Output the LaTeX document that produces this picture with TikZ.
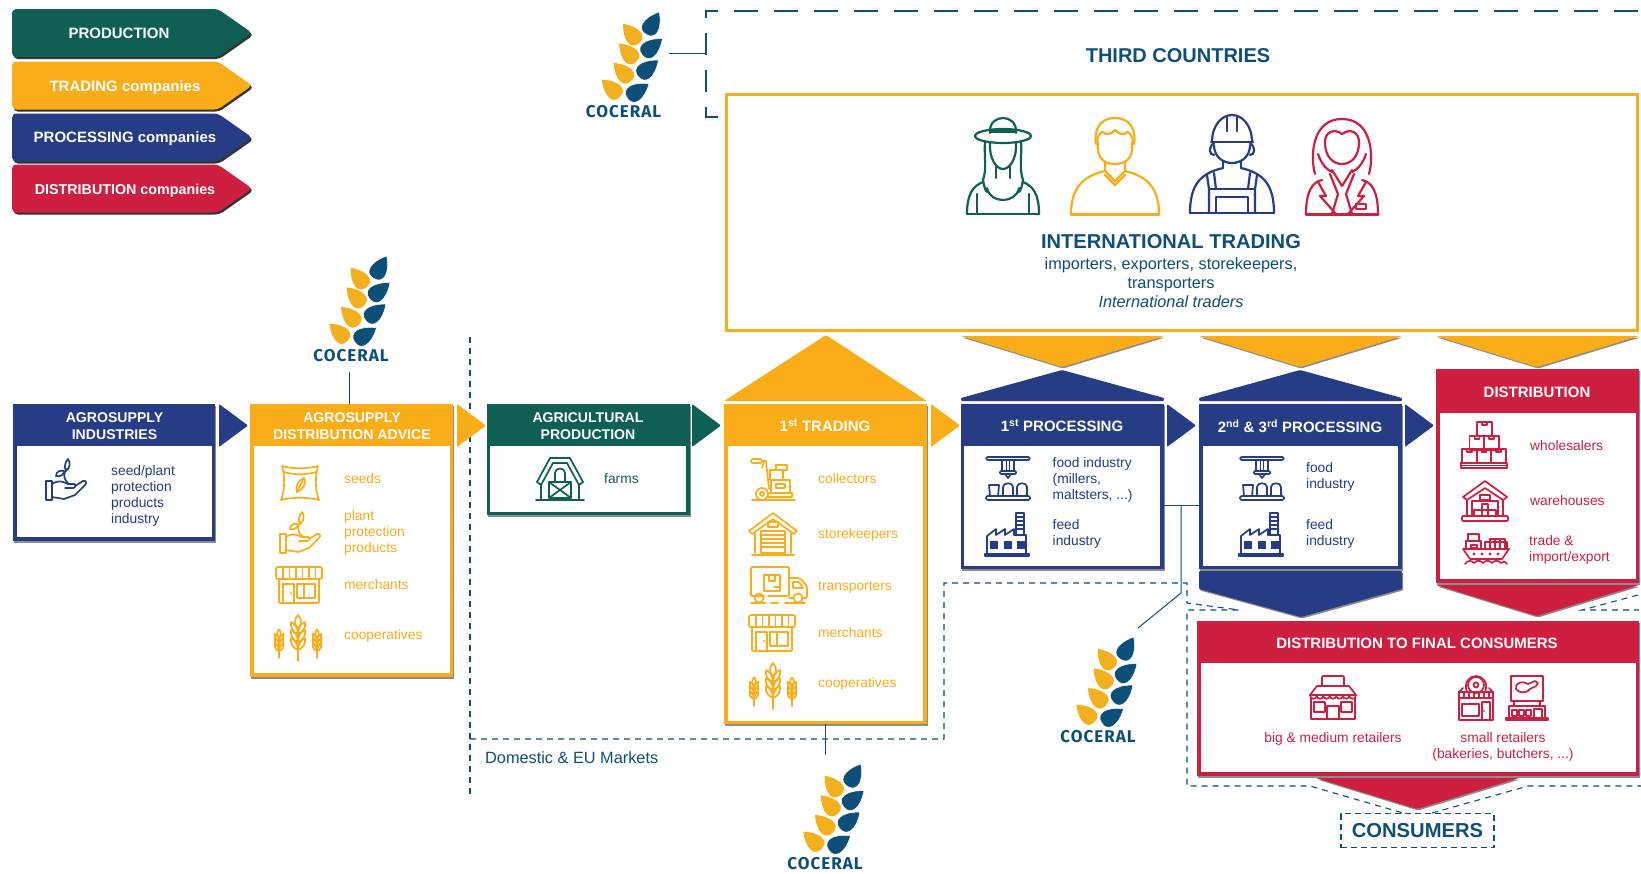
\documentclass[tikz,border=0pt]{standalone}
\usepackage{fontspec}
\setmainfont{Liberation Sans}
\newfontfamily\logofont[LetterSpace=6]{Fira Sans}
\usetikzlibrary{arrows.meta}
\usetikzlibrary{calc}
\usetikzlibrary{shadows}
\usetikzlibrary{shapes.symbols}
\definecolor{prodgreen}{HTML}{0F5F55}
\definecolor{tradeyellow}{HTML}{FBAC19}
\definecolor{procblue}{HTML}{263D85}
\definecolor{distred}{HTML}{CF1F41}
\definecolor{cocblue}{HTML}{0D4F78}
\definecolor{cocyellow}{HTML}{F2AF1E}
\tikzset{
  softshadow/.style={drop shadow={shadow xshift=1pt, shadow yshift=-1.5pt, fill=black, opacity=.45}},
  tag/.style={shape=signal, signal to=east, signal pointer angle=70, rounded corners=4pt, minimum width=240pt, minimum height=48pt,
    inner sep=0pt, drop shadow={shadow xshift=1.5pt, shadow yshift=-2pt, fill=black, opacity=.8}},
  tagtext/.style={inner sep=0pt, text=white, font=\fontsize{15}{17}\bfseries\selectfont},
  card/.style={rectangle, inner sep=0pt, outer sep=0pt, softshadow},
  pane/.style={rectangle, inner sep=0pt, outer sep=0pt, fill=white},
  head/.style={align=center, inner sep=0pt, text=white, font=\fontsize{14.1}{16.5}\bfseries\selectfont},
  bighead/.style={align=center, inner sep=0pt, text=white, font=\fontsize{15}{18}\bfseries\selectfont},
  item/.style={anchor=west, align=left, inner sep=0pt, font=\fontsize{13.8}{16}\selectfont},
  title/.style={align=center, inner sep=0pt, text=cocblue, font=\fontsize{20}{22}\bfseries\selectfont},
  logotext/.style={inner sep=1pt, text=cocblue, font=\fontsize{17}{19}\logofont\bfseries\selectfont},
  conn/.style={draw=cocblue, line width=1pt},
  market/.style={draw=cocblue, line width=1.1pt, dash pattern=on 6pt off 5pt},
  thirdline/.style={draw=cocblue, line width=2.6pt},
  icon/.style={line width=1.7pt, line join=round, line cap=round},
  figure/.style={line width=2.2pt, line join=round, line cap=round},
  coceral/.pic={
    \foreach \x/\y/\a/\c in {22.7/-77.5/-30/cocblue,15.7/-68.5/39/cocyellow,18.7/-57/-51/cocblue,13/-50/43/cocyellow,14.7/-35.5/-51/cocblue,8/-31/45/cocyellow,3.7/-14/-57/cocblue,-3/-15/47/cocyellow}{
      \filldraw[fill=\c,draw=white,line width=.5pt,shift={(\x,\y)},rotate=\a] (0,0) .. controls (-11,0) and (-12,-12) .. (0,-26) .. controls (12,-12) and (11,0) .. (0,0);
    }
  },
  hand/.pic={
    \draw (-20,1) rectangle (-14,20);
    \draw (-14,4) .. controls (-8,0) and (-4,1) .. (2,4) -- (8,4) .. controls (10,4) and (10,8) .. (7,8) -- (-1,8);
    \draw (9,6) -- (17,1) .. controls (20,0) and (21,3) .. (19,5) -- (9,15) -- (-2,19) -- (-14,17);
    \draw (2,3) .. controls (-4,-3) and (-2,-8) .. (1,-11);
    \draw (2,-21) .. controls (5,-17) and (4,-12) .. (0,-9) .. controls (-2,-13) and (-1,-18) .. (2,-21);
    \draw (-10,-4) .. controls (-10,-9) and (-5,-10) .. (-2,-9) .. controls (-2,-5) and (-6,-3) .. (-10,-4);
  },
  bag/.pic={
    \draw (-18,-17) .. controls (-8,-14) and (8,-14) .. (18,-17) .. controls (15,-8) and (15,8) .. (19,17) .. controls (8,14) and (-8,14) .. (-19,17) .. controls (-15,8) and (-15,-8) .. (-18,-17);
    \draw (-16,-11) .. controls (-6,-8) and (6,-8) .. (16,-11);
    \draw (4,-5) .. controls (7,0) and (3,7) .. (-3,9) .. controls (-5,4) and (-2,-3) .. (4,-5);
    \draw (-3,9) -- (4,-5);
  },
  shop/.pic={
    \draw[rounded corners=2] (-23,-18) rectangle (23,-6);
    \foreach \x in {-16,-9.5,-3,3.5,10,16.5} \draw (\x,-18) -- (\x,-6);
    \draw[rounded corners=1] (-20,-6) -- (-20,18) -- (20,18) -- (20,-6);
    \draw (-16,-1) rectangle (-5,18);
    \draw (-2,-1) rectangle (16,13);
    \draw (5,-1) -- (5,13);
    \fill (-8,8) circle (1.2);
  },
  wheat/.pic={
    \foreach \x/\yy/\s in {0/0/1,-19/6/.62,19/6/.62}{
      \begin{scope}[shift={(\x,\yy)},scale=\s]
        \draw (0,-6) -- (0,24);
        \draw (0,-22) .. controls (-4,-18) and (-4,-12) .. (0,-9) .. controls (4,-12) and (4,-18) .. (0,-22);
        \foreach \k in {-12,-4,4}{
          \draw (0,\k+9) .. controls (-5,\k+7) and (-8,\k+3) .. (-7,\k-3) .. controls (-3,\k-1) and (0,\k+3) .. (0,\k+9);
          \draw (0,\k+9) .. controls (5,\k+7) and (8,\k+3) .. (7,\k-3) .. controls (3,\k-1) and (0,\k+3) .. (0,\k+9);
        }
      \end{scope}
    }
  },
  barn/.pic={
    \draw (-23,3) -- (-10,-21) -- (10,-21) -- (23,3);
    \draw (-19,6) -- (-19,21);
    \draw (19,6) -- (19,21);
    \draw (-23,3) -- (-19,6) -- (-7,-16) -- (7,-16) -- (19,6) -- (23,3);
    \draw (-24,21) -- (24,21);
    \draw (-11,3) rectangle (11,19);
    \draw (-11,3) -- (11,19) (-11,19) -- (11,3);
    \draw (-5,3) -- (-5,-6) .. controls (-5,-12) and (5,-12) .. (5,-6) -- (5,3);
  },
  trolley/.pic={
    \draw[rounded corners=2] (-22,-21) rectangle (-11,-17);
    \draw (-11,-19) -- (-7,-19) -- (-4,9);
    \draw (-9,-19) -- (-11,-12);
    \draw (-11,14) circle (6);
    \draw (-11,14) circle (2);
    \draw (-5,17) -- (19,17) -- (19,13) -- (-4,13);
    \draw (-21,20) -- (22,20);
    \draw (-3,-10) rectangle (10,0);
    \draw (-2,0) rectangle (17,13);
    \draw (3,-15) rectangle (14,-10);
    \draw (3,4) rectangle (12,8);
  },
  storehouse/.pic={
    \draw (-24,-3) -- (0,-21) -- (24,-3);
    \draw (-24,-3) -- (-21,0) -- (0,-15) -- (21,0) -- (24,-3);
    \draw (-18,-1) -- (-18,19);
    \draw (18,-1) -- (18,19);
    \draw (-21,21) -- (21,21);
    \draw (-12,-3) rectangle (12,19);
    \foreach \y in {1,5,9,13} \draw (-12,\y) -- (12,\y);
    \draw (-5,-12) rectangle (5,-7);
  },
  truck/.pic={
    \draw[rounded corners=1] (-15,11) -- (-28,11) -- (-28,-18) -- (10,-18) -- (10,11) -- (-11,11);
    \draw (-15,-10) rectangle (1,6);
    \draw (-10,-10) rectangle (-4,-4);
    \draw (-5,2) -- (0,2);
    \draw[rounded corners=2] (10,-7) -- (21,-7) -- (28,1) -- (28,13) -- (24,13);
    \draw (10,13) -- (14,13);
    \draw (14,-3) -- (20,-3) -- (24,3) -- (14,3) -- cycle;
    \draw (-20,13) circle (4.5);
    \draw (19,13) circle (4.5);
    \draw (-28,18) -- (-14,18) (-8,18) -- (-1,18) (6,18) -- (26,18);
  },
  machine/.pic={
    \draw[rounded corners=1.5] (-22,-22) rectangle (22,-19);
    \draw (-6,-19) -- (-6,-8) (6,-19) -- (6,-8);
    \draw (-1.5,-19) -- (-1.5,-8) (1.5,-19) -- (1.5,-8);
    \draw[rounded corners=1] (-8,-8) rectangle (8,-5);
    \draw (-3,-5) -- (0,-1) -- (3,-5);
    \draw (-19,6) -- (-9,6) -- (-10,17) -- (-18,17) -- cycle;
    \draw (-5,17) -- (-5,8) .. controls (-5,3) and (5,3) .. (5,8) -- (5,17);
    \draw (9,17) -- (9,8) .. controls (9,3) and (19,3) .. (19,8) -- (19,17);
    \draw[rounded corners=1.5] (-22,17) rectangle (22,21);
  },
  factory/.pic={
    \draw (-20,20) -- (-20,2) -- (-11,-5) -- (-11,1) -- (-2,-5) -- (-2,1) -- (7,-5) -- (7,1);
    \draw (7,1) -- (19,1) -- (19,20);
    \draw (9,1) rectangle (17,-21);
    \foreach \y in {-17,-13,-9,-5} \draw (9,\y) -- (17,\y);
    \draw (-22,20) rectangle (22,22);
    \foreach \x in {-13,1,14} \fill (\x-4,7) rectangle (\x+4,15);
  },
  boxes/.pic={
    \foreach \x/\y in {-22/4,-7.5/4,7/4,-14.5/-9,0/-9,-7/-23}{
      \draw (\x,\y) rectangle (\x+15,\y+14);
      \draw (\x+5,\y) -- (\x+5,\y+3) -- (\x+10,\y+3) -- (\x+10,\y);
    }
    \draw (-23,18) rectangle (23,23);
    \draw (-23,20.5) -- (23,20.5);
  },
  depot/.pic={
    \draw (-22,-4) -- (0,-20) -- (22,-4);
    \draw (-22,-4) -- (-18,-1) -- (0,-13) -- (18,-1) -- (22,-4);
    \draw (-18,-1) -- (-18,15) (18,-1) -- (18,15);
    \draw[rounded corners=1] (-23,15) rectangle (23,20);
    \draw (-13,15) -- (-13,0) -- (13,0) -- (13,15);
    \draw (-5,-1) rectangle (5,-6);
    \draw (-3,3) rectangle (3,9);
    \draw (-11,9) rectangle (-3,15) (-3,9) rectangle (3,15) (3,9) rectangle (11,15);
  },
  ship/.pic={
    \draw (-23,0) -- (23,0) -- (16,10) -- (-16,10) -- cycle;
    \foreach \x in {-12,-4,4,12} \fill (\x,5) circle (1.6);
    \draw (-20,0) rectangle (-5,-8);
    \draw (-18,-8) rectangle (-7,-15);
    \draw (-15,-4) rectangle (-9,-1);
    \draw (-1,0) rectangle (21,-7);
    \foreach \x in {4,9,14} \draw (\x,0) -- (\x,-10) -- (\x+5,-10) -- (\x+5,0);
    \draw (-21,15) .. controls (-18,11) and (-15,11) .. (-12,14) .. controls (-9,11) and (-6,11) .. (-3,14) .. controls (0,11) and (3,11) .. (6,14) .. controls (9,11) and (12,11) .. (15,14) .. controls (17,12) and (19,12) .. (21,15);
  },
  store/.pic={
    \draw[rounded corners=1] (-11,-12) -- (-11,-22) -- (11,-22) -- (11,-12);
    \draw (-16,-12) -- (16,-12) -- (23,-3) (-16,-12) -- (-23,-3);
    \foreach \x in {-23,-16.5,-10,-3.5,3,9.5,16}{
      \draw (\x,-3) .. controls (\x,2) and (\x+7,2) .. (\x+7,-3);
    }
    \draw (-23,-3) -- (23,-3);
    \draw (-22,0) -- (-22,21) -- (22,21) -- (22,0);
    \draw (-6,8) rectangle (6,21);
    \draw (-19,4) rectangle (-8,14);
    \draw (8,4) rectangle (19,14);
  },
  bakery/.pic={
    \draw (-9,-6) .. controls (-13,-16) and (-6,-22) .. (0,-22) .. controls (6,-22) and (13,-16) .. (9,-6);
    \draw (0,-13) circle (8);
    \draw (0,-13) circle (2.5);
    \draw (-17,-6) -- (-13,-10) (17,-6) -- (13,-10);
    \draw (-17,-6) rectangle (17,0);
    \foreach \x in {-12,-7,-2,3,8,13} \draw (\x,-6) -- (\x,0);
    \draw (-17,0) -- (-17,22) -- (17,22) -- (17,0);
    \draw (-14,6) rectangle (3,18);
    \draw (6,4) rectangle (14,22);
    \fill (8,13) circle (1);
  },
  butcher/.pic={
    \draw (-16,-22) rectangle (16,3);
    \draw (-11,-9) .. controls (-13,-15) and (-4,-18) .. (1,-14) -- (8,-17) -- (11,-15) -- (9,-12) -- (3,-9) .. controls (1,-5) and (-8,-4) .. (-11,-9);
    \draw (-13,3) rectangle (13,8);
    \draw (-18,8) -- (-18,20) (18,8) -- (18,20);
    \draw (-18,8) -- (18,8);
    \draw (-21,20) rectangle (21,22);
    \foreach \x in {-15,-8,-1} \draw (\x,12) rectangle (\x+5,18);
    \draw (7,20) -- (7,11) -- (15,11) -- (15,20);
  },
  farmer/.pic={
    \draw (0,-30) ellipse (28 and 7);
    \draw (-13,-33) .. controls (-14,-44) and (-6,-48) .. (0,-48) .. controls (6,-48) and (14,-44) .. (13,-33);
    \draw[line width=3pt] (-12,-35) -- (12,-35);
    \draw (-13,-23) .. controls (-14,-8) and (-7,3) .. (0,3) .. controls (7,3) and (14,-8) .. (13,-23);
    \draw (-18,-25) .. controls (-19,-10) and (-16,3) .. (-20,14) .. controls (-19,20) and (-18,24) .. (-16,26);
    \draw (18,-25) .. controls (19,-10) and (16,3) .. (20,14) .. controls (19,20) and (18,24) .. (16,26);
    \draw (-7,1) -- (-7,12) (7,1) -- (7,12);
    \draw (-16,22) .. controls (-13,38) and (13,38) .. (16,22);
    \draw (-20,16) .. controls (-30,20) and (-36,28) .. (-36,48);
    \draw (20,16) .. controls (30,20) and (36,28) .. (36,48);
    \draw (-36,48) -- (36,48);
    \draw (-26,28) -- (-26,48) (26,28) -- (26,48);
  },
  tradesman/.pic={
    \draw (-19,-22) .. controls (-21,-34) and (-17,-48) .. (0,-48) .. controls (17,-48) and (21,-34) .. (19,-22);
    \draw (-19,-22) .. controls (-17,-30) and (-15,-34) .. (-12,-34) .. controls (-8,-30) and (-4,-32) .. (0,-36) .. controls (4,-32) and (8,-30) .. (12,-34) .. controls (15,-34) and (17,-30) .. (19,-22);
    \draw (-17,-24) .. controls (-19,-6) and (-9,-2) .. (0,-2) .. controls (9,-2) and (19,-6) .. (17,-24);
    \draw (-10,-4) -- (-10,5) -- (0,15) -- (10,5) -- (10,-4);
    \draw (-10,9) -- (0,19) -- (10,9);
    \draw (-10,5) .. controls (-32,10) and (-44,22) .. (-44,48);
    \draw (10,5) .. controls (32,10) and (44,22) .. (44,48);
    \draw[line width=3pt] (-44,48) -- (44,48);
  },
  worker/.pic={
    \draw (-20,-23) .. controls (-20,-40) and (-10,-50) .. (0,-50) .. controls (10,-50) and (20,-40) .. (20,-23);
    \draw (-21,-23) -- (21,-23);
    \draw (-5,-49) -- (-5,-34) (5,-49) -- (5,-34);
    \draw (-18,-22) .. controls (-24,-18) and (-23,-10) .. (-18,-10);
    \draw (18,-22) .. controls (24,-18) and (23,-10) .. (18,-10);
    \draw (-18,-20) .. controls (-18,-8) and (-9,-2) .. (0,-2) .. controls (9,-2) and (18,-8) .. (18,-20);
    \draw (-9,-4) -- (-9,3) (9,-4) -- (9,3);
    \draw (-9,3) .. controls (-30,8) and (-42,18) .. (-42,48);
    \draw (9,3) .. controls (30,8) and (42,18) .. (42,48);
    \draw (-42,48) -- (42,48);
    \draw (-25,10) -- (-23,24) -- (-23,48) (25,10) -- (23,24) -- (23,48);
    \draw (-18,8) -- (-16,24) (18,8) -- (16,24);
    \draw (-23,24) -- (23,24);
    \draw (-16,32) rectangle (16,48);
  },
  banker/.pic={
    \draw (-27,8) .. controls (-32,-10) and (-30,-47) .. (0,-47) .. controls (30,-47) and (32,-10) .. (27,8);
    \draw (-17,-24) .. controls (-17,-8) and (-8,-2) .. (0,-2) .. controls (8,-2) and (17,-8) .. (17,-24) .. controls (17,-34) and (8,-38) .. (0,-32) .. controls (-8,-38) and (-17,-34) .. (-17,-24);
    \draw (-24,-12) .. controls (-20,0) and (-14,4) .. (-10,6);
    \draw (24,-12) .. controls (20,0) and (14,4) .. (10,6);
    \draw (-20,14) .. controls (-30,16) and (-36,26) .. (-36,48);
    \draw (20,14) .. controls (30,16) and (36,26) .. (36,48);
    \draw[line width=3pt] (-36,48) -- (36,48);
    \draw (-10,4) -- (0,20) -- (10,4);
    \draw (-24,16) -- (-16,30) -- (-22,30) -- (-6,48);
    \draw (24,16) -- (16,30) -- (22,30) -- (6,48);
    \draw (-12,8) -- (-4,28) -- (-10,48) (12,8) -- (4,28) -- (10,48);
    \draw (14,38) rectangle (24,43);
  },
}

\begin{document}
\begin{tikzpicture}[x=1pt, y=-1pt]
      \useasboundingbox (0,0) rectangle (1641,873);

      % legend
      \node[tag, fill=prodgreen] (production) at (115,33) {};
      \node[tag, fill=tradeyellow] (tradingco) at (115,85.5) {};
      \node[tag, fill=procblue] (processingco) at (115,137.5) {};
      \node[tag, fill=distred] (distributionco) at (115,188.5) {};
      \node[tagtext] (productiontext) at (119,33) {PRODUCTION};
      \node[tagtext] (tradingtext) at (125,88) {TRADING companies};
      \node[tagtext] (processingtext) at (125,138.5) {PROCESSING companies};
      \node[tagtext, font=\fontsize{14.3}{17}\bfseries\selectfont] (distributiontext) at (125,191) {DISTRIBUTION companies};

      % market frames
      \draw[market] (470,337) -- (470,798);
      \draw[market] (470,739) -- (944,739) -- (944,583) -- (1187,583) -- (1187,603) -- (1239,610) -- (1187,610) -- (1187,786) -- (1310,786) -- (1403,813);
      \draw[market] (1432,813) -- (1528,786) -- (1641,786);
      \draw[market] (1638,595) -- (1582,610) -- (1639,610);
      \draw[thirdline, dash pattern=on 22pt off 15pt] (718,117) -- (706,117) -- (706,11) -- (718,11);
      \draw[thirdline, dash pattern=on 24pt off 16pt] (734,11) -- (1641,11);

      % chevrons between the stages
      \foreach \x/\c in {219/procblue,457/tradeyellow,692/prodgreen,931/tradeyellow,1167/procblue,1405/procblue}
        \fill[\c, rounded corners=1pt] (\x,404) -- (\x+29,425.5) -- (\x,447) -- cycle;

      % flows up and down
      \fill[tradeyellow, rounded corners=1pt] (724,401) -- (826,335) -- (927,401) -- cycle;
      \foreach \x/\c in {961/procblue,1199/procblue}
        \fill[\c, rounded corners=1pt] (\x,401) -- (\x,398) -- (\x+101,370) -- (\x+203,398) -- (\x+203,401) -- cycle;
      \foreach \x in {961,1199,1436}
        \fill[tradeyellow, softshadow, rounded corners=1pt] (\x,336) -- (\x+203,336) -- (\x+101,367) -- cycle;
      \fill[procblue, softshadow, rounded corners=1pt] (1199,571) -- (1402,571) -- (1402,589) -- (1301,617) -- (1199,589) -- cycle;
      \fill[distred, softshadow, rounded corners=1pt] (1436,585) -- (1639,585) -- (1537,616) -- cycle;
      \fill[distred, softshadow, rounded corners=1pt] (1316,778) -- (1519,778) -- (1417,809) -- cycle;

      % stages
      \node[card, fill=procblue, minimum width=202pt, minimum height=137pt] (industries) at (114,472.5) {};
      \node[pane, minimum width=195pt, minimum height=91pt] (industriespane) at (114.5,491.5) {};
      \node[head] (industrieshead) at (114.5,426) {AGROSUPPLY\\INDUSTRIES};
      \pic[icon, color=procblue] at (66,480) {hand};
      \node[item, text=procblue] (seedplant) at (111,496) {seed/plant\\protection\\products\\industry};

      \node[card, fill=tradeyellow, minimum width=203pt, minimum height=273pt] (advice) at (351.5,540.5) {};
      \node[pane, minimum width=196pt, minimum height=227pt] (advicepane) at (352,559.5) {};
      \node[head] (advicehead) at (352,426) {AGROSUPPLY\\DISTRIBUTION ADVICE};
      \pic[icon, color=tradeyellow] at (300,483) {bag};
      \pic[icon, color=tradeyellow] at (300,533) {hand};
      \pic[icon, color=tradeyellow] at (299,585) {shop};
      \pic[icon, color=tradeyellow] at (298,637) {wheat};
      \node[item, text=tradeyellow] (seeds) at (344,479) {seeds};
      \node[item, text=tradeyellow] (plantprot) at (344,533) {plant\\protection\\products};
      \node[item, text=tradeyellow] (merchantsa) at (344,585) {merchants};
      \node[item, text=tradeyellow] (cooperativesa) at (344,635.5) {cooperatives};

      \node[card, fill=prodgreen, minimum width=203pt, minimum height=111pt] (farming) at (588.5,459.5) {};
      \node[pane, minimum width=196pt, minimum height=66pt] (farmingpane) at (588,479) {};
      \node[head] (farminghead) at (588,426) {AGRICULTURAL\\PRODUCTION};
      \pic[icon, color=prodgreen] at (560,479) {barn};
      \node[item, text=prodgreen] (farms) at (604,479) {farms};

      \node[card, fill=tradeyellow, minimum width=203pt, minimum height=320pt] (trading) at (825.5,564) {};
      \node[pane, minimum width=195pt, minimum height=275pt] (tradingpane) at (825.5,583.5) {};
      \node[bighead] (tradinghead) at (825,426) {1\textsuperscript{st} TRADING};
      \pic[icon, color=tradeyellow] at (773,480) {trolley};
      \pic[icon, color=tradeyellow] at (773,534) {storehouse};
      \pic[icon, color=tradeyellow] at (779,585) {truck};
      \pic[icon, color=tradeyellow] at (772,633) {shop};
      \pic[icon, color=tradeyellow] at (773,685) {wheat};
      \node[item, text=tradeyellow] (collectors) at (818,479) {collectors};
      \node[item, text=tradeyellow] (storekeepers) at (818,535) {storekeepers};
      \node[item, text=tradeyellow] (transporters) at (818,587) {transporters};
      \node[item, text=tradeyellow] (merchantsb) at (818,633) {merchants};
      \node[item, text=tradeyellow] (cooperativesb) at (818,684) {cooperatives};

      \node[card, fill=procblue, minimum width=203pt, minimum height=165pt] (first) at (1062.5,486.5) {};
      \node[pane, minimum width=196pt, minimum height=120pt] (firstpane) at (1062,506) {};
      \node[bighead] (firsthead) at (1062,426) {1\textsuperscript{st} PROCESSING};
      \pic[icon, color=procblue] at (1008,479) {machine};
      \pic[icon, color=procblue] at (1007,534) {factory};
      \node[item, text=procblue] (foodmill) at (1052.5,480) {food industry\\(millers,\\maltsters, ...)};
      \node[item, text=procblue] (feeda) at (1052.5,534) {feed\\industry};

      \node[card, fill=procblue, minimum width=203pt, minimum height=165pt] (second) at (1300.5,486.5) {};
      \node[pane, minimum width=195pt, minimum height=120pt] (secondpane) at (1300.5,506) {};
      \node[bighead] (secondhead) at (1300,426) {2\textsuperscript{nd} \& 3\textsuperscript{rd} PROCESSING};
      \pic[icon, color=procblue] at (1262,479) {machine};
      \pic[icon, color=procblue] at (1261,534) {factory};
      \node[item, text=procblue] (foodb) at (1306,477) {food\\industry};
      \node[item, text=procblue] (feedb) at (1306,534) {feed\\industry};

      \node[card, fill=distred, minimum width=203pt, minimum height=214pt] (distribution) at (1537.5,476) {};
      \node[pane, minimum width=196pt, minimum height=166pt] (distributionpane) at (1538,496) {};
      \node[bighead] (distributionhead) at (1537,392) {DISTRIBUTION};
      \pic[icon, color=distred] at (1484,445) {boxes};
      \pic[icon, color=distred] at (1485,501) {depot};
      \pic[icon, color=distred] at (1486,549) {ship};
      \node[item, text=distred] (wholesalers) at (1530,446) {wholesalers};
      \node[item, text=distred] (warehouses) at (1530,501) {warehouses};
      \node[item, text=distred] (tradeimport) at (1529,549.5) {trade \&\\import/export};

      \node[card, fill=distred, minimum width=442pt, minimum height=155pt] (final) at (1418,698.5) {};
      \node[pane, minimum width=435pt, minimum height=109pt] (finalpane) at (1418.5,717.5) {};
      \node[bighead] (finalhead) at (1417,643) {DISTRIBUTION TO FINAL CONSUMERS};
      \pic[icon, color=distred] at (1333,698) {store};
      \pic[icon, color=distred] at (1476,698) {bakery};
      \pic[icon, color=distred] at (1527,698) {butcher};
      \node[item, anchor=center, align=center, text=distred] (bigretail) at (1333,739) {big \& medium retailers};
      \node[item, anchor=center, align=center, text=distred] (smallretail) at (1503,747) {small retailers\\(bakeries, butchers, ...)};

      % consumers
      \node[draw=cocblue, line width=1.2pt, dash pattern=on 6pt off 4pt, inner sep=0pt, minimum width=153pt, minimum height=34pt, text=cocblue, font=\fontsize{20.2}{22}\bfseries\selectfont] (consumers) at (1417.5,830.5) {CONSUMERS};

      % third countries
      \node[title] (third) at (1178,56) {THIRD COUNTRIES};
      \node[card, draw=tradeyellow, line width=3.5pt, fill=white, minimum width=911pt, minimum height=236pt] (international) at (1182,212.5) {};
      \pic[figure, color=prodgreen] at (1003,166) {farmer};
      \pic[figure, color=tradeyellow] at (1115,166) {tradesman};
      \pic[figure, color=procblue] at (1232,165) {worker};
      \pic[figure, color=distred] at (1342,166) {banker};
      \node[title, font=\fontsize{20.1}{23}\bfseries\selectfont] (internationalhead) at (1171,242) {INTERNATIONAL TRADING};
      \node[align=center, inner sep=0pt, text=cocblue, font=\fontsize{16.3}{19}\selectfont] (internationaltext) at (1171,282.5) {importers, exporters, storekeepers,\\transporters\\\textit{International traders}};

      \node[inner sep=0pt, anchor=west, text=cocblue, font=\fontsize{16.3}{18}\selectfont] (domestic) at (485,758) {Domestic \& EU Markets};

      % logos and their links
      \node[logotext] (coceralthird) at (623.5,112) {COCERAL};
      \pic at (coceralthird) {coceral};
      \coordinate (thirdstart) at (669,53);
      \coordinate (thirdend) at (706,53);
      \draw[conn] (thirdstart) -- (thirdend);

      \node[logotext] (coceraladvice) at (351,356) {COCERAL};
      \pic at (coceraladvice) {coceral};
      \coordinate (advicestart) at (349,372);
      \draw[conn] (advicestart) -- (advicestart |- advice.north);

      \node[logotext] (coceraltrade) at (825,864) {COCERAL};
      \pic at (coceraltrade) {coceral};
      \coordinate (tradeend) at (trading.south |- 0,755);
      \draw[conn] (trading.south) -- (tradeend);

      \node[logotext] (coceralproc) at (1098,737) {COCERAL};
      \pic at (coceralproc) {coceral};
      \coordinate (procjoin) at (1181,505);
      \coordinate (procknee) at (1181,593);
      \coordinate (procend) at (1138,628);
      \draw[conn] (first.east |- procjoin) -- (second.west |- procjoin);
      \draw[conn] (procjoin) -- (procknee) -- (procend);
    \end{tikzpicture}
\end{document}
